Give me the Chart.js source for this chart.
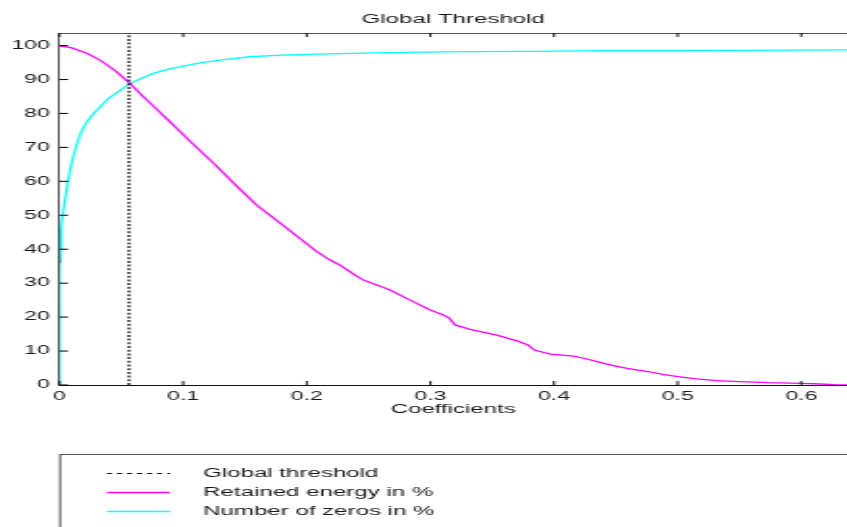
<!DOCTYPE html>
<html><head><meta charset="utf-8">
<script src="https://cdn.jsdelivr.net/npm/chart.js@4/dist/chart.umd.min.js"></script>
<style>html,body{margin:0;padding:0;background:#fff;overflow:hidden;}canvas{display:block;}</style>
</head><body>
<canvas id="c" width="440" height="527" style="width:847px;height:527px"></canvas>
<script>
// ---- data ----
const chartTitle = 'Global Threshold';
const xTitle = 'Coefficients';
const xTicks = [0, 0.1, 0.2, 0.3, 0.4, 0.5, 0.6];
const xTickLabels = ['0', '0.1', '0.2', '0.3', '0.4', '0.5', '0.6'];
const yTicks = [0, 10, 20, 30, 40, 50, 60, 70, 80, 90, 100];
const yTickLabels = ['0', '10', '20', '30', '40', '50', '60', '70', '80', '90', '100'];
const xMin = 0, xMax = 0.637, yMin = 0, yMax = 103.7;

const thresholdLabel = 'Global threshold';
const thresholdX = [0.0562, 0.0562];
const thresholdY = [0, 103.7];

const energyLabel = 'Retained energy in %';
const energyX = [0, 0.0014, 0.01, 0.023, 0.0328, 0.045, 0.0565, 0.066, 0.0759, 0.0894, 0.1056, 0.1244, 0.1433, 0.1595, 0.1838, 0.2081, 0.2188, 0.227, 0.239, 0.2458, 0.2674, 0.2836, 0.2998, 0.3105, 0.315, 0.32, 0.332, 0.3537, 0.37, 0.379, 0.384, 0.397, 0.416, 0.425, 0.435, 0.447, 0.459, 0.477, 0.488, 0.5, 0.515, 0.532, 0.55, 0.573, 0.6, 0.615, 0.627, 0.637];
const energyY = [100, 99.8, 99.3, 97.6, 95.7, 92.6, 89.0, 85.6, 82.2, 77.5, 71.8, 65.4, 58.6, 53.0, 46.2, 39.3, 36.8, 35.3, 32.4, 30.9, 28.0, 25.0, 22.1, 20.6, 19.8, 17.7, 16.4, 14.7, 13.0, 11.8, 10.3, 9.1, 8.5, 7.8, 6.9, 5.8, 4.9, 3.9, 3.1, 2.5, 1.8, 1.3, 1.0, 0.7, 0.5, 0.3, 0.1, 0];

const zerosLabel = 'Number of zeros in %';
const zerosX = [0, 0, 0.001, 0.0014, 0.0025, 0.004, 0.0055, 0.007, 0.009, 0.011, 0.0135, 0.016, 0.019, 0.023, 0.0275, 0.0328, 0.039, 0.0463, 0.0565, 0.066, 0.0759, 0.09, 0.1137, 0.131, 0.154, 0.18, 0.2, 0.227, 0.276, 0.33, 0.383, 0.438, 0.5, 0.55, 0.637];
const zerosY = [0, 36, 40, 46.6, 50, 53.4, 57, 60.3, 64, 67.2, 70.3, 73, 75.6, 77.9, 79.9, 81.9, 84.2, 86.1, 88.7, 90.3, 91.8, 93.2, 94.9, 95.8, 96.7, 97.2, 97.4, 97.6, 98.0, 98.2, 98.3, 98.5, 98.5, 98.6, 98.7];

// dark segment on the y axis near x = 0
const markX = [0, 0];
const markY = [36, 46.5];

const pts = (xs, ys) => xs.map((x, i) => ({x: x, y: ys[i]}));
const FONT = "'Liberation Sans', Arial, sans-serif";

const inwardTicks = {
  id: 'inwardTicks',
  afterDatasetsDraw(chart) {
    const {ctx, chartArea: a, scales} = chart;
    ctx.save();
    ctx.strokeStyle = '#111';
    ctx.lineWidth = 1.1;
    scales.y.ticks.forEach(t => {
      const py = scales.y.getPixelForValue(t.value);
      ctx.beginPath(); ctx.moveTo(a.left, py); ctx.lineTo(a.left + 4.5, py); ctx.stroke();
    });
    ctx.lineWidth = 1;
    scales.x.ticks.forEach(t => {
      const px = scales.x.getPixelForValue(t.value);
      ctx.beginPath(); ctx.moveTo(px, a.bottom); ctx.lineTo(px, a.bottom - 4); ctx.stroke();
      ctx.beginPath(); ctx.moveTo(px, a.top); ctx.lineTo(px, a.top + 4); ctx.stroke();
    });
    ctx.restore();
  }
};

const boxLegend = {
  id: 'boxLegend',
  afterDraw(chart) {
    const {ctx} = chart;
    const items = chart.data.datasets.filter(d => d.label);
    ctx.save();
    ctx.strokeStyle = '#555';
    ctx.lineWidth = 1;
    ctx.strokeRect(31.2, 454.5, 430, 100);
    const rows = [473.5, 492.5, 511.5];
    items.forEach((d, i) => {
      const y = rows[i];
      ctx.beginPath();
      ctx.strokeStyle = d.borderColor;
      ctx.lineWidth = d.legendDash ? 1.2 : 1.3;
      ctx.setLineDash(d.legendDash || []);
      ctx.moveTo(55.6, y); ctx.lineTo(88.3, y); ctx.stroke();
      ctx.setLineDash([]);
      ctx.fillStyle = '#1a1a1a';
      ctx.font = '12.5px ' + FONT;
      ctx.textBaseline = 'middle';
      ctx.textAlign = 'left';
      ctx.fillText(d.label, 105.5, y + 0.5);
    });
    ctx.restore();
  }
};

new Chart(document.getElementById('c'), {
  type: 'line',
  data: {
    datasets: [
      {label: thresholdLabel, data: pts(thresholdX, thresholdY), borderColor: '#000000', borderWidth: 1.2, borderDash: [2, 1.7], legendDash: [2.6, 2.6], pointRadius: 0},
      {label: energyLabel, data: pts(energyX, energyY), borderColor: '#ff00ff', borderWidth: 1.3, pointRadius: 0},
      {label: zerosLabel, data: pts(zerosX, zerosY), borderColor: '#00ffff', borderWidth: 1.3, pointRadius: 0},
      {data: pts(markX, markY), borderColor: '#1e2b2b', borderWidth: 1.6, pointRadius: 0}
    ]
  },
  options: {
    responsive: false,
    animation: false,
    devicePixelRatio: 1,
    layout: {padding: {left: 0, right: 0, top: 0, bottom: 108}},
    elements: {line: {tension: 0}},
    plugins: {
      legend: {display: false},
      tooltip: {enabled: false},
      title: {display: true, text: chartTitle, fullSize: false, color: '#1a1a1a',
              font: {family: FONT, size: 12.5, weight: 'normal', lineHeight: 1.2},
              padding: {top: 12, bottom: 0}}
    },
    scales: {
      x: {
        type: 'linear', position: 'bottom', min: xMin, max: xMax,
        afterBuildTicks: s => { s.ticks = xTicks.map(v => ({value: v})); },
        afterFit: s => { s.height = 34; },
        grid: {display: false, drawTicks: false},
        border: {display: true, color: '#111', width: 1},
        ticks: {padding: 4, color: '#1a1a1a', font: {family: FONT, size: 12},
                maxRotation: 0, autoSkip: false,
                callback: (v, i) => xTickLabels[i]},
        title: {display: true, text: xTitle, color: '#1a1a1a',
                font: {family: FONT, size: 12.5, lineHeight: 1.2}, padding: {top: 0, bottom: 1.5}}
      },
      x2: {
        type: 'linear', position: 'top', min: xMin, max: xMax,
        afterFit: s => { s.height = 6; },
        grid: {display: false, drawTicks: false},
        border: {display: true, color: '#555', width: 1},
        ticks: {display: false}
      },
      y: {
        type: 'linear', position: 'left', min: yMin, max: yMax,
        afterBuildTicks: s => { s.ticks = yTicks.map(v => ({value: v})); },
        afterFit: s => { s.width = 30.9; },
        grid: {display: false, drawTicks: false},
        border: {display: true, color: '#555', width: 1},
        ticks: {padding: 5, color: '#1a1a1a', font: {family: FONT, size: 12},
                callback: (v, i) => yTickLabels[i]}
      }
    }
  },
  plugins: [inwardTicks, boxLegend]
});
</script>
</body></html>
